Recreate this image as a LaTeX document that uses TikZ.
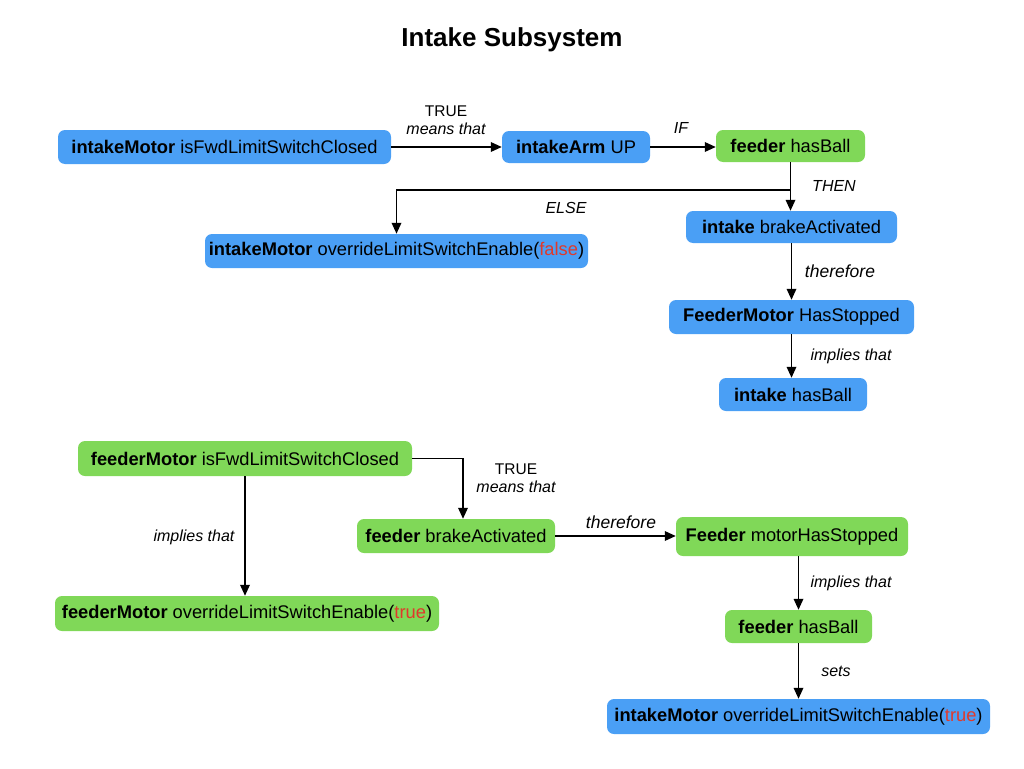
\documentclass[tikz,border=0pt]{standalone}
\usepackage{fontspec}
\setmainfont{Liberation Sans}
\usetikzlibrary{arrows.meta,calc}
\definecolor{boxblue}{HTML}{4A9FF5}
\definecolor{boxgreen}{HTML}{80D858}
\definecolor{valred}{HTML}{E0392B}
\tikzset{
  box/.style={rounded corners=7pt, inner sep=0pt, font=\fontsize{18.3}{20}\selectfont, text=black},
  bluebox/.style={box, fill=boxblue},
  greenbox/.style={box, fill=boxgreen},
  lbl/.style={font=\fontsize{16}{18}\selectfont\itshape, inner sep=0pt},
  biglbl/.style={font=\fontsize{17.5}{19}\selectfont\itshape, inner sep=0pt},
  lblup/.style={font=\fontsize{15.5}{17}\selectfont, inner sep=0pt},
  conn/.style={line width=1.8pt, -{Triangle[length=11pt,width=9.5pt]}},
}
\begin{document}
\begin{tikzpicture}[x=1pt,y=-1pt]
\useasboundingbox (0,0) rectangle (1024,768);
\node[font=\fontsize{26}{30}\selectfont\bfseries] (title) at (512,40) {Intake Subsystem};

% top section
\node[bluebox, minimum width=333, minimum height=34] (im1) at (224.5,147) {\textbf{intakeMotor} isFwdLimitSwitchClosed};
\node[bluebox, minimum width=148, minimum height=32] (arm) at (576,147) {\textbf{intakeArm} UP};
\node[greenbox, minimum width=149, minimum height=32] (fh1) at (790.5,146) {\textbf{feeder} hasBall};
\node[bluebox, minimum width=211, minimum height=32] (ib) at (791.5,227) {\textbf{intake} brakeActivated};
\node[bluebox, minimum width=383, minimum height=34] (ov1) at (396.5,251) {\textbf{intakeMotor} overrideLimitSwitchEnable(\textcolor{valred}{false})};
\node[bluebox, minimum width=245, minimum height=34] (fms1) at (791.5,317) {\textbf{FeederMotor} HasStopped};
\node[bluebox, minimum width=148, minimum height=33] (ih) at (793,394.5) {\textbf{intake} hasBall};

\draw[conn] (im1.east) -- (arm.west);
\node[lblup] (l1a) at (446,111) {TRUE};
\node[lbl] (l1b) at (446,129) {means that};
\draw[conn] (arm.east) -- (arm.east -| fh1.west);
\node[lbl] (l2) at (681,128) {IF};
\draw[conn] (fh1.south) -- (fh1.south |- ib.north);
\node[lbl] (l3) at (834,186) {THEN};
\coordinate (split) at ($(fh1.south)+(0,28)$);
\draw[conn] (split) -| (ov1.north);
\node[lbl] (l4) at (566,208) {ELSE};
\draw[conn] (ib.south) -- (ib.south |- fms1.north);
\node[biglbl] (l5) at (840,271) {therefore};
\draw[conn] (fms1.south) -- (fms1.south |- ih.north);
\node[lbl] (l6) at (851,356) {implies that};

% bottom section
\node[greenbox, minimum width=334, minimum height=35] (fm) at (245,458.5) {\textbf{feederMotor} isFwdLimitSwitchClosed};
\node[greenbox, minimum width=198, minimum height=34] (fb) at (456,536) {\textbf{feeder} brakeActivated};
\node[greenbox, minimum width=232, minimum height=39] (fms2) at (792,536.5) {\textbf{Feeder} motorHasStopped};
\node[greenbox, minimum width=384, minimum height=35] (ov2) at (247,613.5) {\textbf{feederMotor} overrideLimitSwitchEnable(\textcolor{valred}{true})};
\node[greenbox, minimum width=147, minimum height=33] (fh2) at (798.5,626.5) {\textbf{feeder} hasBall};
\node[bluebox, minimum width=383, minimum height=35] (ov3) at (798.5,716.5) {\textbf{intakeMotor} overrideLimitSwitchEnable(\textcolor{valred}{true})};

\draw[conn] (fm.south) -- (fm.south |- ov2.north);
\node[lbl] (l7) at (194,537) {implies that};
\draw[conn] (fm.east) -| ([xshift=7pt]fb.north);
\node[lblup] (l8a) at (516,469) {TRUE};
\node[lbl] (l8b) at (516,487) {means that};
\draw[conn] (fb.east) -- (fb.east -| fms2.west);
\node[biglbl] (l9) at (621,522) {therefore};
\draw[conn] (fms2.south -| fh2.north) -- (fh2.north);
\node[lbl] (l10) at (851,583) {implies that};
\draw[conn] (fh2.south) -- (fh2.south |- ov3.north);
\node[lbl] (l11) at (836,671) {sets};
\end{tikzpicture}
\end{document}
